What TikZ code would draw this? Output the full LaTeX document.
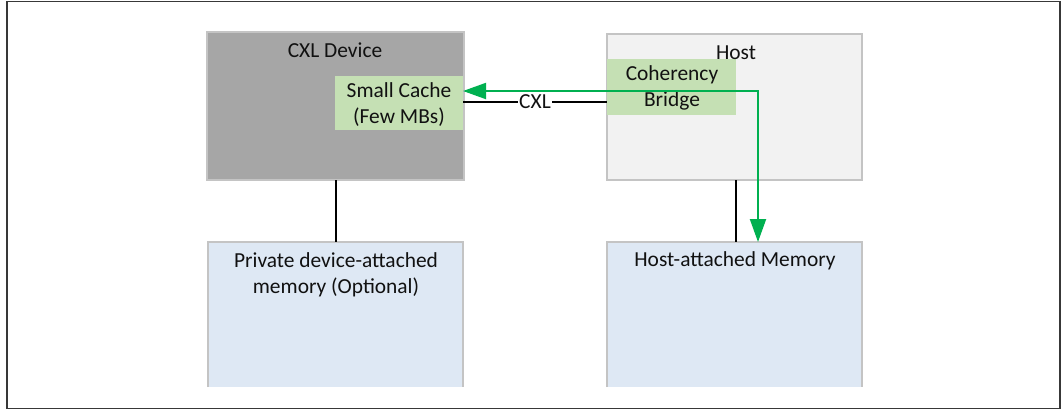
\documentclass[tikz,border=0pt]{standalone}
\usepackage{fontspec}
\setmainfont{Carlito}
\usetikzlibrary{arrows.meta}
\definecolor{devgray}{HTML}{A6A6A6}
\definecolor{hostgray}{HTML}{F2F2F2}
\definecolor{cachegreen}{HTML}{C5E0B4}
\definecolor{memblue}{HTML}{DEE8F4}
\definecolor{edgegray}{HTML}{C4C4C4}
\definecolor{arrowgreen}{HTML}{00B050}
\definecolor{framegray}{HTML}{383838}
\definecolor{txt}{HTML}{111111}
\tikzset{
  box/.style={anchor=north west, inner sep=0pt, outer sep=0pt, draw=edgegray, line width=1.2bp},
  membox/.style={anchor=north west, inner sep=0pt, outer sep=0pt, fill=memblue},
  lbl/.style={font=\fontsize{21.5}{26.5}\selectfont, text=txt, align=center, inner sep=0pt},
  conn/.style={line width=2.6bp, black},
  greenarrow/.style={line width=2bp, arrowgreen, {Triangle[length=23bp,width=16bp]}-{Triangle[length=23bp,width=16bp]}}
}
\begin{document}
\begin{tikzpicture}[x=1bp,y=-1bp]
\useasboundingbox (0,0) rectangle (1061,410);
% frame
\node[anchor=north west, inner sep=0pt, outer sep=0pt, draw=framegray, line width=1.6bp,
      minimum width=1053bp, minimum height=407bp] (frame) at (7,1.5) {};
% boxes
\node[box, fill=devgray, minimum width=257bp, minimum height=148bp] (dev) at (207,32) {};
\node[box, fill=hostgray, minimum width=255bp, minimum height=146bp] (host) at (607,34) {};
\node[box, draw=none, fill=cachegreen, minimum width=128bp, minimum height=54bp] (sc) at (335,76) {};
\node[box, draw=none, fill=cachegreen, minimum width=129bp, minimum height=56bp] (cb) at (607,59) {};
\node[membox, minimum width=255bp, minimum height=145bp] (pm) at (208,242) {};
\node[membox, minimum width=255bp, minimum height=145bp] (hm) at (607,242) {};
\draw[edgegray, line width=1.2bp] (pm.south west) -- (pm.north west) -- (pm.north east) -- (pm.south east);
\draw[edgegray, line width=1.2bp] (hm.south west) -- (hm.north west) -- (hm.north east) -- (hm.south east);
% texts
\node[lbl] (devt) at (335,50) {CXL Device};
\node[lbl] (hostt) at (736,53) {Host};
\node[lbl] (sct) at (399,104.5) {Small Cache\\(Few MBs)};
\node[lbl] (cbt) at (672,88) {Coherency\\Bridge};
\node[lbl] (pmt) at (336,275) {Private device-attached\\memory (Optional)};
\node[lbl] (hmt) at (735,261) {Host-attached Memory};
% connectors
\draw[conn] (sc.east |- 0,102) -- node[lbl, fill=white, inner xsep=1bp, inner ysep=0pt] (cxl) {CXL} (cb.west |- 0,102);
\draw[conn] (dev.south -| 336,0) -- (pm.north -| 336,0);
\draw[conn] (host.south -| 736,0) -- (hm.north -| 736,0);
\coordinate (turn) at (758,91);
\draw[greenarrow] (sc.east |- turn) -- (turn) -- (turn |- hm.north);
\end{tikzpicture}
\end{document}
